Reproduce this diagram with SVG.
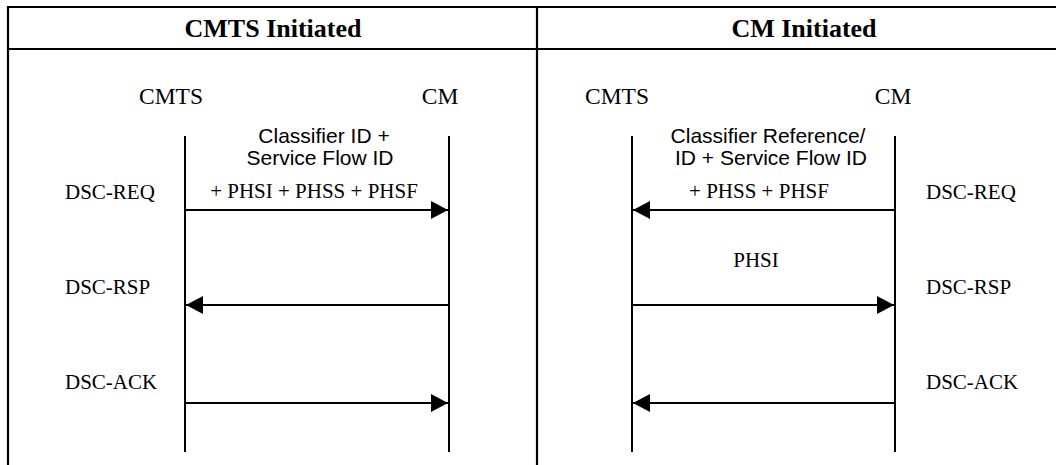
<svg xmlns="http://www.w3.org/2000/svg" width="1056" height="465" viewBox="0 0 1056 465">
  <defs>
    <marker id="ah" markerUnits="userSpaceOnUse" markerWidth="17" markerHeight="18" refX="17" refY="9" orient="auto">
      <path d="M0,0 L17,9 L0,18 Z" fill="#000"/>
    </marker>
    <style>
      .frame{stroke:#000;stroke-width:2.2;fill:none}
      .life{stroke:#000;stroke-width:2}
      .msg{stroke:#000;stroke-width:2;marker-end:url(#ah)}
      .hdr{font-family:"Liberation Serif",serif;font-weight:bold;font-size:26px;text-anchor:middle;fill:#000}
      .ent{font-family:"Liberation Serif",serif;font-size:23.5px;text-anchor:middle;fill:#000}
      .lbl{font-family:"Liberation Serif",serif;font-size:21px;fill:#000}
      .par{font-family:"Liberation Sans",Arial,sans-serif;font-size:21px;text-anchor:middle;fill:#000}
      .tm{font-family:"Liberation Serif",serif;font-size:21px;text-anchor:middle;fill:#000}
    </style>
  </defs>

  <g id="table">
    <line class="frame" x1="8" y1="7" x2="1056" y2="7"/>
    <line class="frame" x1="8" y1="49" x2="1056" y2="49"/>
    <line class="frame" x1="8" y1="6" x2="8" y2="465"/>
    <line class="frame" x1="537" y1="6" x2="537" y2="465"/>
    <text class="hdr" x="273" y="37">CMTS Initiated</text>
    <text class="hdr" x="804" y="37">CM Initiated</text>
  </g>

  <g id="left-cmts">
    <text class="ent" x="171" y="104">CMTS</text>
    <line class="life" x1="185" y1="136" x2="185" y2="452"/>
  </g>
  <g id="left-cm">
    <text class="ent" x="440" y="104">CM</text>
    <line class="life" x1="449" y1="136" x2="449" y2="452"/>
  </g>
  <g id="right-cmts">
    <text class="ent" x="617" y="104">CMTS</text>
    <line class="life" x1="632" y1="136" x2="632" y2="452"/>
  </g>
  <g id="right-cm">
    <text class="ent" x="893" y="104">CM</text>
    <line class="life" x1="895" y1="136" x2="895" y2="452"/>
  </g>

  <g id="connectors">
    <line class="msg" x1="185" y1="210" x2="448" y2="210"/>
    <line class="msg" x1="449" y1="305" x2="186" y2="305"/>
    <line class="msg" x1="185" y1="403" x2="448" y2="403"/>
    <line class="msg" x1="895" y1="210" x2="633" y2="210"/>
    <line class="msg" x1="632" y1="305" x2="894" y2="305"/>
    <line class="msg" x1="895" y1="403" x2="633" y2="403"/>
  </g>

  <g id="labels">
    <text class="par" x="324" y="143">Classifier ID +</text>
    <text class="par" x="320" y="165">Service Flow ID</text>
    <text class="tm" x="314" y="198">+ PHSI + PHSS + PHSF</text>
    <text class="lbl" x="65" y="199">DSC-REQ</text>
    <text class="lbl" x="65" y="294">DSC-RSP</text>
    <text class="lbl" x="65" y="389">DSC-ACK</text>

    <text class="par" x="768" y="143">Classifier Reference/</text>
    <text class="par" x="771" y="165">ID + Service Flow ID</text>
    <text class="tm" x="759" y="198">+ PHSS + PHSF</text>
    <text class="tm" x="756" y="267">PHSI</text>
    <text class="lbl" x="926" y="199">DSC-REQ</text>
    <text class="lbl" x="926" y="294">DSC-RSP</text>
    <text class="lbl" x="926" y="389">DSC-ACK</text>
  </g>
</svg>
